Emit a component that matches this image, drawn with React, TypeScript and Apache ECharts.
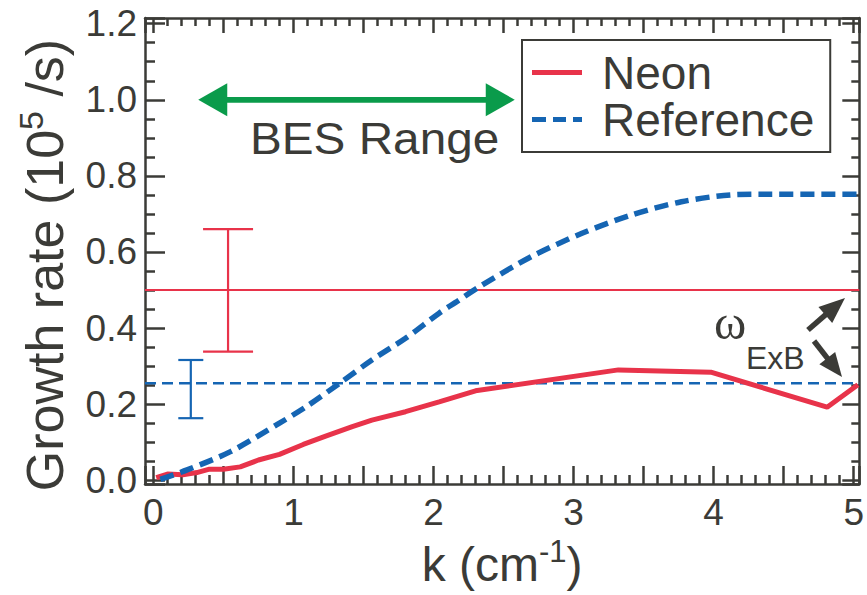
import React, { useEffect, useRef } from 'react';
import * as echarts from 'echarts';

// ---- data ----
const neonK = [0.02, 0.1, 0.21, 0.31, 0.4, 0.5, 0.62, 0.75, 0.9, 1.07, 1.23, 1.42, 1.56, 1.8, 2.04, 2.3, 3.32, 3.98, 4.81, 5.03];
const neonRate = [0.007, 0.016, 0.014, 0.02, 0.029, 0.029, 0.035, 0.053, 0.068, 0.094, 0.116, 0.141, 0.158, 0.18, 0.206, 0.235, 0.29, 0.284, 0.192, 0.251];

const refK = [0.05, 0.24, 0.55, 0.9, 1.09, 1.33, 1.56, 1.8, 2.04, 2.16, 2.32, 2.7, 3.06, 3.41, 3.77, 4.12, 4.36, 5.03];
const refRate = [0.002, 0.027, 0.075, 0.15, 0.193, 0.255, 0.316, 0.373, 0.439, 0.468, 0.507, 0.588, 0.649, 0.697, 0.732, 0.75, 0.752, 0.752];

const kExtent = [-0.06, 5.04];
const rateExtent = [-0.01, 1.215];

const neonExB = 0.5;
const refExB = 0.255;

// [k, low, high]
const neonErr = [[0.533, 0.338, 0.66]];
const refErr = [[0.267, 0.163, 0.316]];

// BES range [kStart, kEnd, level]
const besRange = [[0.32, 2.58, 1.0]];

const xTickLabels = ['0', '1', '2', '3', '4', '5'];
const yTickLabels = ['0.0', '0.2', '0.4', '0.6', '0.8', '1.0', '1.2'];

// ---- styles ----
const RED = '#e8334a';
const BLUE = '#1565b3';
const GREEN = '#0a9b4b';
const INK = '#3b3b37';
const FONT = '"Liberation Sans", Arial, Helvetica, sans-serif';

function arrowShapes(tail: number[], tip: number[], headLen: number, headHalf: number, width: number, color: string) {
  const dx = tip[0] - tail[0];
  const dy = tip[1] - tail[1];
  const len = Math.hypot(dx, dy);
  const ux = dx / len, uy = dy / len;
  const nx = -uy, ny = ux;
  const bx = tip[0] - ux * headLen, by = tip[1] - uy * headLen;
  return [
    { type: 'line', shape: { x1: tail[0], y1: tail[1], x2: bx + ux * 2, y2: by + uy * 2 }, style: { stroke: color, lineWidth: width } },
    {
      type: 'polygon',
      shape: { points: [[tip[0], tip[1]], [bx + nx * headHalf, by + ny * headHalf], [bx - nx * headHalf, by - ny * headHalf]] },
      style: { fill: color },
    },
  ];
}

export default function App() {
  const ref = useRef<HTMLDivElement>(null);

  useEffect(() => {
    if (!ref.current) return;
    const chart = echarts.init(ref.current, undefined, { renderer: 'svg' });

    const near = (v: number, s: number) => Math.abs(v / s - Math.round(v / s)) < 1e-6;
    const xFmt = (v: number) => {
      if (!near(v, 1)) return '';
      const i = Math.round(v);
      return xTickLabels[i] ?? '';
    };
    const yFmt = (v: number) => {
      if (!near(v, 0.2)) return '';
      const i = Math.round(v / 0.2);
      return yTickLabels[i] ?? '';
    };

    const axisLine = { show: true, onZero: false, lineStyle: { color: INK, width: 2.5 } };

    const errRender = (color: string, half: number) => (params: any, api: any) => {
      const x = api.value(0), lo = api.value(1), hi = api.value(2);
      const pLo = api.coord([x, lo]);
      const pHi = api.coord([x, hi]);
      const st = { stroke: color, lineWidth: 2.2 };
      return {
        type: 'group',
        children: [
          { type: 'line', shape: { x1: pLo[0], y1: pLo[1], x2: pHi[0], y2: pHi[1] }, style: st },
          { type: 'line', shape: { x1: pLo[0] - half, y1: pLo[1], x2: pLo[0] + half, y2: pLo[1] }, style: st },
          { type: 'line', shape: { x1: pHi[0] - half, y1: pHi[1], x2: pHi[0] + half, y2: pHi[1] }, style: st },
        ],
      };
    };

    const besRender = (params: any, api: any) => {
      const p1 = api.coord([api.value(0), api.value(2)]);
      const p2 = api.coord([api.value(1), api.value(2)]);
      return {
        type: 'group',
        children: [
          ...arrowShapes([p2[0] - 10, p2[1]], p1, 29, 16.5, 5.5, GREEN),
          ...arrowShapes([p1[0] + 10, p1[1]], p2, 29, 16.5, 5.5, GREEN),
        ],
      };
    };

    const option: any = {
      animation: false,
      backgroundColor: '#ffffff',
      textStyle: { fontFamily: FONT },
      grid: { left: 145, right: 5, top: 18, bottom: 111 },
      legend: {
        data: [
          { name: 'Neon', icon: 'path://M0,0H50V5H0Z' },
          { name: 'Reference', icon: 'path://M0,0H14V5H0Z M21,0H34V5H21Z M41,0H50V5H41Z' },
        ],
        orient: 'vertical',
        left: 522,
        top: 40,
        padding: [9, 16, 9, 10],
        itemWidth: 50,
        itemHeight: 5,
        itemGap: 0,
        borderColor: INK,
        borderWidth: 2,
        borderRadius: 0,
        backgroundColor: '#ffffff',
        selectedMode: false,
        textStyle: { fontSize: 46, color: INK, fontFamily: FONT, lineHeight: 47, padding: [0, 0, 0, 15] },
      },
      xAxis: [
        {
          type: 'value', position: 'bottom', min: kExtent[0], max: kExtent[1], splitNumber: 10,
          axisLine,
          axisTick: { show: true, inside: true, length: 18, lineStyle: { color: INK, width: 2.5 } },
          minorTick: { show: true, splitNumber: 5, length: 9, lineStyle: { color: INK, width: 2.5 } },
          splitLine: { show: false },
          axisLabel: { formatter: xFmt, fontSize: 37, color: INK, margin: 10, fontFamily: FONT, showMinLabel: false, showMaxLabel: false },
          name: '{a|k (cm}{s|-1}{a|)}',
          nameLocation: 'middle',
          nameGap: 51,
          nameTextStyle: {
            rich: {
              a: { fontSize: 48, color: INK, fontFamily: FONT, lineHeight: 58 },
              s: { fontSize: 31, color: INK, fontFamily: FONT, lineHeight: 31, verticalAlign: 'top' },
            },
          },
        },
        {
          type: 'value', position: 'top', min: kExtent[0], max: kExtent[1], splitNumber: 10,
          axisLine,
          axisTick: { show: true, inside: true, length: 15, lineStyle: { color: INK, width: 2.5 } },
          minorTick: { show: true, splitNumber: 5, length: 8, lineStyle: { color: INK, width: 2.5 } },
          splitLine: { show: false },
          axisLabel: { show: false },
        },
      ],
      yAxis: [
        {
          type: 'value', position: 'left', min: rateExtent[0], max: rateExtent[1], splitNumber: 6,
          axisLine,
          axisTick: { show: true, inside: true, length: 20, lineStyle: { color: INK, width: 2.5 } },
          minorTick: { show: true, splitNumber: 4, length: 10, lineStyle: { color: INK, width: 2.5 } },
          splitLine: { show: false },
          axisLabel: { formatter: yFmt, fontSize: 37, color: INK, margin: 8, fontFamily: FONT, showMinLabel: false, showMaxLabel: false },
          name: '{a|Growth rate (10}{s|5}{a| /s)}',
          nameLocation: 'middle',
          nameRotate: 90,
          nameGap: 69,
          nameTextStyle: {
            padding: [0, 28, 0, 0],
            rich: {
              a: { fontSize: 52, color: INK, fontFamily: FONT, lineHeight: 62 },
              s: { fontSize: 34, color: INK, fontFamily: FONT, lineHeight: 34, verticalAlign: 'top' },
            },
          },
        },
        {
          type: 'value', position: 'right', min: rateExtent[0], max: rateExtent[1], splitNumber: 6,
          axisLine,
          axisTick: { show: true, inside: true, length: 17, lineStyle: { color: INK, width: 2.5 } },
          minorTick: { show: true, splitNumber: 4, length: 8, lineStyle: { color: INK, width: 2.5 } },
          splitLine: { show: false },
          axisLabel: { show: false },
        },
      ],
      series: [
        {
          name: 'neonExB', type: 'line', symbol: 'none', silent: true, z: 2,
          data: [[kExtent[0], neonExB], [kExtent[1], neonExB]],
          lineStyle: { color: RED, width: 2.2 },
        },
        {
          name: 'refExB', type: 'line', symbol: 'none', silent: true, z: 2,
          data: [[kExtent[0], refExB], [kExtent[1], refExB]],
          lineStyle: { color: BLUE, width: 2.5, type: [11, 6] },
        },
        { name: 'neonErr', type: 'custom', renderItem: errRender(RED, 25), data: neonErr, encode: { x: 0, y: [1, 2] }, z: 3 },
        { name: 'refErr', type: 'custom', renderItem: errRender(BLUE, 12.5), data: refErr, encode: { x: 0, y: [1, 2] }, z: 3 },
        { name: 'bes', type: 'custom', renderItem: besRender, data: besRange, encode: { x: [0, 1], y: 2 }, z: 3 },
        {
          name: 'Neon', type: 'line', symbol: 'none', z: 4,
          data: neonK.map((k, i) => [k, neonRate[i]]),
          lineStyle: { color: RED, width: 5 },
          itemStyle: { color: RED },
        },
        {
          name: 'Reference', type: 'line', symbol: 'none', z: 5, smooth: 0.3,
          data: refK.map((k, i) => [k, refRate[i]]),
          lineStyle: { color: BLUE, width: 5.5, type: [14, 7] },
          itemStyle: { color: BLUE },
        },
      ],
      graphic: [
        {
          type: 'text', left: 250, top: 116, scaleX: 1.06,
          style: { text: 'BES Range', fontSize: 45, fill: INK, fontFamily: FONT },
        },
        {
          type: 'text', left: 714, top: 298,
          style: { text: '\u03c9', fontSize: 49, fill: INK, fontFamily: '"Liberation Serif", "DejaVu Serif", serif' },
        },
        {
          type: 'text', left: 746, top: 342,
          style: { text: 'ExB', fontSize: 32, fill: INK, fontFamily: FONT },
        },
        {
          type: 'group',
          children: [
            ...arrowShapes([808, 330], [845, 298], 26, 10.5, 5.5, INK),
            ...arrowShapes([814, 341], [842, 377], 24, 10, 5.5, INK),
          ],
        },
      ],
    };

    chart.setOption(option);
    return () => chart.dispose();
  }, []);

  return <div ref={ref} style={{ position: 'fixed', left: 0, top: 0, width: 867, height: 595, background: '#fff' }} />;
}
